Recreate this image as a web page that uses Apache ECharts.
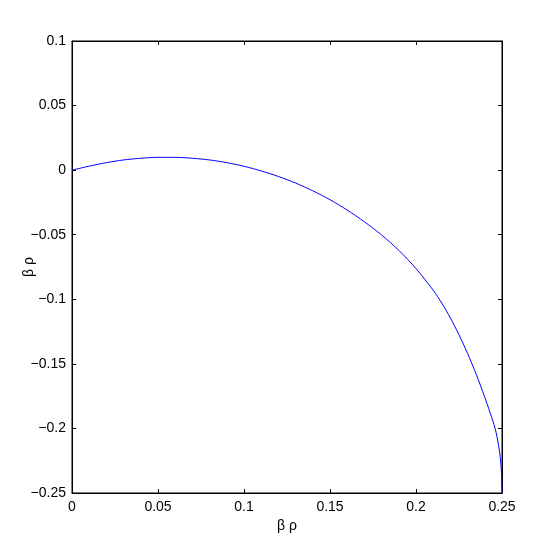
<!DOCTYPE html>
<html>
<head>
<meta charset="utf-8">
<script src="https://cdn.jsdelivr.net/npm/echarts@6/dist/echarts.min.js"></script>
<style>
html, body { margin: 0; padding: 0; background: #fff; }
#chart { width: 554px; height: 554px; }
</style>
</head>
<body>
<div id="chart"></div>
<script>
// curve points
const xValues = [0, 0.01, 0.02, 0.03, 0.04, 0.05, 0.06, 0.07, 0.08, 0.09, 0.1, 0.11, 0.12, 0.13, 0.14, 0.15, 0.16, 0.17, 0.18, 0.19, 0.2, 0.21, 0.215, 0.22, 0.225, 0.23, 0.235, 0.24, 0.243, 0.246, 0.248, 0.249, 0.2497, 0.25]
const yValues = [0, 0.0031, 0.0058, 0.0079, 0.0092, 0.0099, 0.0099, 0.0092, 0.0079, 0.0058, 0.003, -0.0006, -0.0049, -0.01, -0.016, -0.0229, -0.0309, -0.04, -0.0502, -0.0621, -0.0762, -0.093, -0.103, -0.1145, -0.1275, -0.142, -0.158, -0.176, -0.1875, -0.2, -0.213, -0.2225, -0.235, -0.25]

// tick labels
const xTicks = [0, 0.05, 0.1, 0.15, 0.2, 0.25]
const xTickLabels = ['0', '0.05', '0.1', '0.15', '0.2', '0.25']
const yTicks = [-0.25, -0.2, -0.15, -0.1, -0.05, 0, 0.05, 0.1]
const yTickLabels = ['\u22120.25', '\u22120.2', '\u22120.15', '\u22120.1', '\u22120.05', '0', '0.05', '0.1']

const axisName = 'β ρ'
const font = "'Liberation Sans', Arial, sans-serif"

// map a tick value to its label
function tickLabel(ticks, labels) {
	return v => {
		const i = ticks.findIndex(t => Math.abs(t - v) < 1e-9)
		return i >= 0 ? labels[i] : ''
	}
}

const lineStyle = { color: '#000', width: 1 }
const tickStyle = { show: true, inside: true, length: 4, lineStyle: { color: '#000' } }
const textStyle = { fontFamily: font, fontSize: 14, color: '#000' }

const chart = echarts.init(document.getElementById('chart'))
chart.setOption({
	animation: false,
	grid: {
		left: 72,
		right: 52,
		top: 41,
		bottom: 61,
		outerBoundsMode: 'none',
		show: true,
		borderColor: '#000',
		borderWidth: 1,
	},
	xAxis: [
		{
			type: 'value',
			min: 0,
			max: 0.25,
			interval: 0.05,
			name: axisName,
			nameLocation: 'middle',
			nameGap: 26,
			nameMoveOverlap: false,
			nameTextStyle: textStyle,
			axisLine: { show: true, onZero: false, lineStyle },
			axisTick: tickStyle,
			splitLine: { show: false },
			axisLabel: {
				...textStyle,
				formatter: tickLabel(xTicks, xTickLabels),
				margin: 7,
			},
		},
		{
			type: 'value',
			position: 'top',
			min: 0,
			max: 0.25,
			interval: 0.05,
			axisLine: { show: true, onZero: false, lineStyle },
			axisTick: tickStyle,
			axisLabel: { show: false },
			splitLine: { show: false },
		},
	],
	yAxis: [
		{
			type: 'value',
			min: -0.25,
			max: 0.1,
			interval: 0.05,
			name: axisName,
			nameLocation: 'middle',
			nameGap: 36,
			nameMoveOverlap: false,
			nameTextStyle: textStyle,
			axisLine: { show: true, onZero: false, lineStyle },
			axisTick: tickStyle,
			splitLine: { show: false },
			axisLabel: {
				...textStyle,
				formatter: tickLabel(yTicks, yTickLabels),
				margin: 6,
			},
		},
		{
			type: 'value',
			position: 'right',
			min: -0.25,
			max: 0.1,
			interval: 0.05,
			axisLine: { show: true, onZero: false, lineStyle },
			axisTick: tickStyle,
			axisLabel: { show: false },
			splitLine: { show: false },
		},
	],
	series: [
		{
			type: 'line',
			data: xValues.map((x, i) => [x, yValues[i]]),
			smooth: 0.3,
			showSymbol: false,
			lineStyle: { color: '#0000ff', width: 1 },
		},
	],
})
</script>
</body>
</html>
